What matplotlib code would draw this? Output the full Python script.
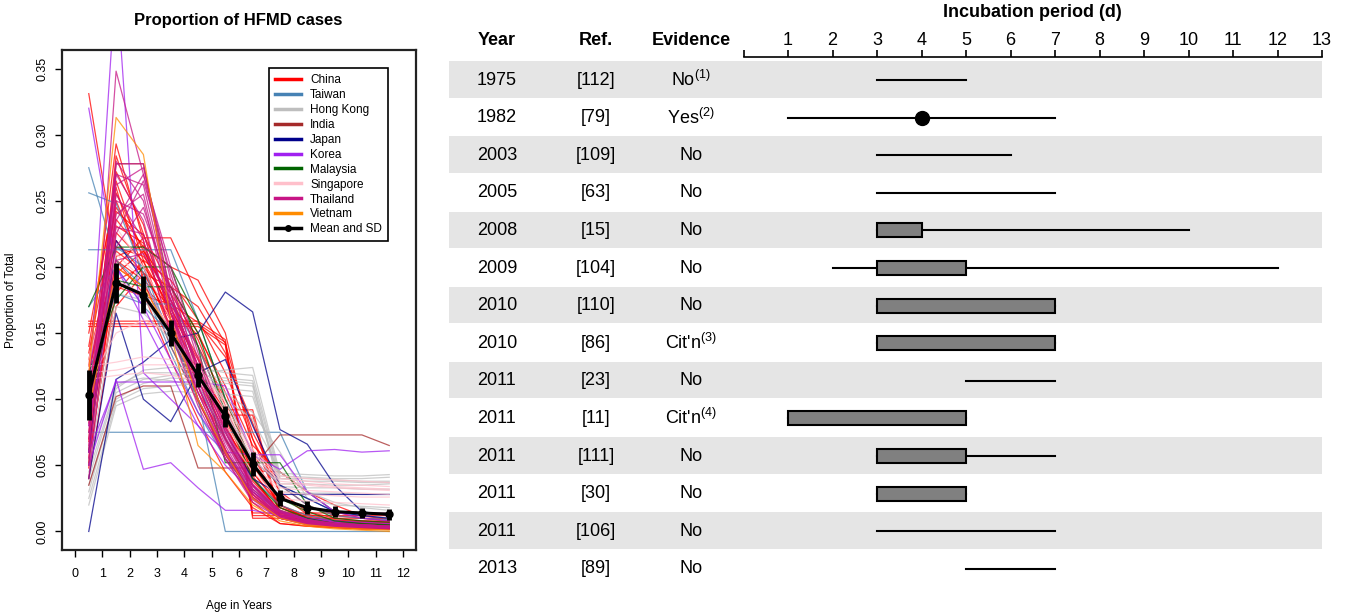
import numpy as np
import matplotlib
matplotlib.use("Agg")
import matplotlib.pyplot as plt
from matplotlib import font_manager
from matplotlib.lines import Line2D

# ---------------- left panel: age distribution of HFMD cases ----------------
ages = [0.5, 1.5, 2.5, 3.5, 4.5, 5.5, 6.5, 7.5, 8.5, 9.5, 10.5, 11.5]

china = [
    [0.331, 0.205, 0.180, 0.130, 0.085, 0.045, 0.018, 0.006, 0.004, 0.003, 0.002, 0.002],
    [0.125, 0.293, 0.220, 0.150, 0.100, 0.058, 0.028, 0.012, 0.008, 0.005, 0.004, 0.003],
    [0.085, 0.284, 0.225, 0.165, 0.110, 0.062, 0.026, 0.010, 0.006, 0.004, 0.003, 0.003],
    [0.100, 0.272, 0.232, 0.160, 0.100, 0.055, 0.030, 0.012, 0.007, 0.005, 0.004, 0.003],
    [0.070, 0.256, 0.212, 0.175, 0.125, 0.080, 0.040, 0.015, 0.010, 0.006, 0.005, 0.004],
    [0.062, 0.242, 0.224, 0.185, 0.140, 0.090, 0.045, 0.020, 0.010, 0.006, 0.005, 0.004],
    [0.092, 0.231, 0.218, 0.170, 0.125, 0.070, 0.035, 0.012, 0.006, 0.004, 0.003, 0.002],
    [0.052, 0.200, 0.222, 0.222, 0.178, 0.142, 0.070, 0.020, 0.010, 0.008, 0.006, 0.005],
    [0.048, 0.208, 0.216, 0.200, 0.190, 0.150, 0.062, 0.015, 0.008, 0.006, 0.005, 0.004],
    [0.157, 0.157, 0.157, 0.157, 0.157, 0.143, 0.012, 0.012, 0.012, 0.012, 0.012, 0.012],
    [0.155, 0.155, 0.155, 0.155, 0.155, 0.141, 0.010, 0.010, 0.010, 0.010, 0.010, 0.010],
    [0.159, 0.159, 0.159, 0.159, 0.159, 0.145, 0.014, 0.014, 0.014, 0.014, 0.014, 0.014],
    [0.130, 0.220, 0.195, 0.160, 0.120, 0.092, 0.092, 0.012, 0.010, 0.008, 0.008, 0.008],
    [0.110, 0.200, 0.185, 0.165, 0.130, 0.088, 0.088, 0.010, 0.008, 0.007, 0.007, 0.007],
    [0.095, 0.190, 0.200, 0.175, 0.140, 0.100, 0.050, 0.020, 0.012, 0.008, 0.007, 0.006],
    [0.075, 0.215, 0.208, 0.180, 0.145, 0.095, 0.045, 0.018, 0.011, 0.007, 0.006, 0.005],
    [0.140, 0.265, 0.205, 0.150, 0.105, 0.070, 0.035, 0.013, 0.008, 0.005, 0.004, 0.003],
    [0.115, 0.250, 0.200, 0.155, 0.115, 0.075, 0.040, 0.015, 0.009, 0.006, 0.005, 0.004],
    [0.060, 0.180, 0.205, 0.190, 0.160, 0.120, 0.070, 0.030, 0.015, 0.010, 0.008, 0.007],
    [0.040, 0.170, 0.195, 0.185, 0.170, 0.135, 0.075, 0.035, 0.020, 0.012, 0.010, 0.008],
    [0.105, 0.236, 0.210, 0.165, 0.120, 0.078, 0.046, 0.045, 0.030, 0.020, 0.012, 0.009],
    [0.082, 0.205, 0.190, 0.170, 0.148, 0.110, 0.065, 0.045, 0.030, 0.015, 0.010, 0.008],
    [0.135, 0.245, 0.215, 0.160, 0.110, 0.062, 0.022, 0.006, 0.004, 0.003, 0.002, 0.002],
    [0.068, 0.195, 0.212, 0.185, 0.150, 0.105, 0.058, 0.018, 0.009, 0.006, 0.005, 0.005],
    [0.150, 0.260, 0.190, 0.140, 0.098, 0.060, 0.028, 0.010, 0.005, 0.003, 0.002, 0.002],
    [0.056, 0.185, 0.178, 0.172, 0.158, 0.132, 0.082, 0.028, 0.013, 0.009, 0.007, 0.006],
    [0.098, 0.226, 0.204, 0.168, 0.132, 0.085, 0.042, 0.014, 0.008, 0.006, 0.005, 0.004],
    [0.120, 0.212, 0.196, 0.160, 0.122, 0.082, 0.038, 0.016, 0.010, 0.007, 0.006, 0.005],
]
taiwan = [
    [0.275, 0.205, 0.185, 0.135, 0.090, 0.055, 0.030, 0.015, 0.008, 0.005, 0.004, 0.004],
    [0.256, 0.248, 0.195, 0.140, 0.100, 0.060, 0.032, 0.016, 0.009, 0.006, 0.005, 0.004],
    [0.213, 0.213, 0.213, 0.213, 0.160, 0.100, 0.060, 0.035, 0.020, 0.012, 0.010, 0.009],
    [0.075, 0.075, 0.075, 0.075, 0.075, 0.075, 0.075, 0.075, 0.030, 0.015, 0.014, 0.014],
    [0.170, 0.200, 0.170, 0.150, 0.100, 0.000, 0.000, 0.000, 0.000, 0.000, 0.000, 0.000],
    [0.120, 0.180, 0.172, 0.172, 0.140, 0.090, 0.055, 0.035, 0.025, 0.015, 0.012, 0.010],
    [0.090, 0.215, 0.200, 0.145, 0.110, 0.070, 0.040, 0.020, 0.012, 0.008, 0.006, 0.005],
]
hong_kong = [
    [0.030, 0.105, 0.115, 0.118, 0.120, 0.122, 0.124, 0.044, 0.043, 0.042, 0.042, 0.043],
    [0.045, 0.110, 0.120, 0.120, 0.118, 0.116, 0.114, 0.040, 0.040, 0.039, 0.038, 0.038],
    [0.025, 0.098, 0.108, 0.110, 0.112, 0.112, 0.110, 0.036, 0.036, 0.035, 0.035, 0.036],
    [0.055, 0.112, 0.116, 0.114, 0.110, 0.108, 0.106, 0.034, 0.033, 0.033, 0.032, 0.032],
    [0.035, 0.100, 0.112, 0.116, 0.115, 0.114, 0.112, 0.030, 0.029, 0.029, 0.028, 0.028],
    [0.020, 0.095, 0.104, 0.106, 0.105, 0.104, 0.102, 0.040, 0.038, 0.038, 0.037, 0.037],
    [0.040, 0.108, 0.122, 0.124, 0.124, 0.120, 0.118, 0.042, 0.041, 0.040, 0.040, 0.041],
    [0.050, 0.170, 0.165, 0.145, 0.120, 0.100, 0.085, 0.045, 0.030, 0.022, 0.018, 0.016],
    [0.060, 0.180, 0.175, 0.150, 0.125, 0.105, 0.090, 0.060, 0.025, 0.020, 0.019, 0.018],
]
india = [
    [0.035, 0.102, 0.110, 0.110, 0.048, 0.048, 0.048, 0.073, 0.073, 0.073, 0.073, 0.065],
    [0.050, 0.278, 0.278, 0.180, 0.120, 0.070, 0.035, 0.015, 0.010, 0.008, 0.006, 0.005],
]
japan = [
    [0.000, 0.115, 0.128, 0.145, 0.150, 0.181, 0.166, 0.077, 0.066, 0.035, 0.015, 0.012],
    [0.040, 0.165, 0.100, 0.083, 0.120, 0.130, 0.080, 0.035, 0.025, 0.015, 0.012, 0.010],
    [0.060, 0.220, 0.190, 0.150, 0.110, 0.075, 0.040, 0.028, 0.028, 0.028, 0.028, 0.028],
]
korea = [
    [0.320, 0.200, 0.160, 0.120, 0.080, 0.050, 0.030, 0.015, 0.010, 0.007, 0.005, 0.004],
    [0.100, 0.420, 0.120, 0.100, 0.080, 0.060, 0.035, 0.015, 0.008, 0.005, 0.004, 0.003],
    [0.050, 0.115, 0.047, 0.052, 0.033, 0.016, 0.016, 0.012, 0.010, 0.008, 0.007, 0.006],
    [0.080, 0.200, 0.170, 0.130, 0.090, 0.060, 0.058, 0.047, 0.061, 0.062, 0.060, 0.061],
    [0.060, 0.113, 0.113, 0.113, 0.113, 0.110, 0.058, 0.058, 0.030, 0.015, 0.010, 0.008],
]
malaysia = [
    [0.170, 0.215, 0.215, 0.200, 0.160, 0.100, 0.050, 0.025, 0.015, 0.008, 0.006, 0.005],
    [0.120, 0.175, 0.200, 0.200, 0.140, 0.052, 0.052, 0.052, 0.020, 0.010, 0.008, 0.007],
    [0.090, 0.190, 0.185, 0.185, 0.150, 0.090, 0.040, 0.018, 0.010, 0.006, 0.005, 0.004],
]
singapore = [
    [0.125, 0.128, 0.132, 0.130, 0.125, 0.095, 0.060, 0.040, 0.038, 0.036, 0.035, 0.034],
    [0.120, 0.122, 0.126, 0.126, 0.120, 0.090, 0.055, 0.036, 0.035, 0.033, 0.032, 0.031],
    [0.115, 0.118, 0.120, 0.118, 0.114, 0.088, 0.050, 0.033, 0.031, 0.030, 0.029, 0.028],
    [0.108, 0.230, 0.200, 0.160, 0.120, 0.080, 0.052, 0.030, 0.028, 0.027, 0.026, 0.026],
    [0.130, 0.210, 0.190, 0.150, 0.110, 0.075, 0.045, 0.025, 0.023, 0.022, 0.021, 0.020],
    [0.112, 0.150, 0.160, 0.150, 0.125, 0.092, 0.058, 0.038, 0.036, 0.034, 0.033, 0.032],
    [0.105, 0.190, 0.180, 0.155, 0.125, 0.098, 0.062, 0.042, 0.040, 0.039, 0.038, 0.037],
]
thailand = [
    [0.060, 0.348, 0.270, 0.180, 0.110, 0.060, 0.025, 0.010, 0.006, 0.004, 0.003, 0.003],
    [0.080, 0.278, 0.278, 0.170, 0.100, 0.055, 0.022, 0.010, 0.006, 0.004, 0.003, 0.002],
    [0.100, 0.270, 0.262, 0.175, 0.115, 0.065, 0.028, 0.012, 0.007, 0.005, 0.004, 0.003],
    [0.070, 0.262, 0.275, 0.190, 0.120, 0.070, 0.030, 0.012, 0.007, 0.005, 0.004, 0.003],
    [0.050, 0.250, 0.240, 0.185, 0.125, 0.075, 0.032, 0.014, 0.008, 0.006, 0.005, 0.004],
    [0.090, 0.240, 0.255, 0.170, 0.110, 0.062, 0.028, 0.011, 0.006, 0.004, 0.003, 0.003],
    [0.120, 0.230, 0.225, 0.165, 0.115, 0.068, 0.030, 0.013, 0.007, 0.005, 0.004, 0.003],
    [0.040, 0.225, 0.265, 0.195, 0.130, 0.078, 0.035, 0.015, 0.009, 0.006, 0.005, 0.004],
    [0.065, 0.270, 0.235, 0.160, 0.105, 0.060, 0.026, 0.011, 0.006, 0.004, 0.003, 0.003],
    [0.110, 0.215, 0.245, 0.180, 0.120, 0.072, 0.032, 0.014, 0.008, 0.005, 0.004, 0.003],
    [0.085, 0.255, 0.220, 0.150, 0.095, 0.055, 0.024, 0.010, 0.005, 0.004, 0.003, 0.002],
    [0.055, 0.235, 0.270, 0.200, 0.135, 0.080, 0.036, 0.016, 0.009, 0.006, 0.005, 0.004],
    [0.095, 0.205, 0.210, 0.175, 0.125, 0.076, 0.034, 0.015, 0.008, 0.006, 0.005, 0.004],
    [0.075, 0.280, 0.250, 0.165, 0.105, 0.058, 0.025, 0.010, 0.006, 0.004, 0.003, 0.003],
]
vietnam = [
    [0.120, 0.313, 0.285, 0.160, 0.100, 0.060, 0.025, 0.010, 0.005, 0.003, 0.002, 0.001],
    [0.090, 0.200, 0.185, 0.150, 0.065, 0.045, 0.020, 0.008, 0.004, 0.002, 0.001, 0.000],
]
mean_prop = [0.103, 0.188, 0.179, 0.150, 0.118, 0.087, 0.051, 0.025, 0.018, 0.015, 0.014, 0.013]
sd_prop = [0.019, 0.015, 0.014, 0.010, 0.009, 0.008, 0.009, 0.006, 0.005, 0.004, 0.004, 0.004]

countries = ["China", "Taiwan", "Hong Kong", "India", "Japan", "Korea",
             "Malaysia", "Singapore", "Thailand", "Vietnam"]
country_data = [china, taiwan, hong_kong, india, japan, korea,
                malaysia, singapore, thailand, vietnam]
country_cols = ["#FF0000", "#4682B4", "#BEBEBE", "#A52A2A", "#00008B", "#A020F0",
                "#006400", "#FFC0CB", "#C71585", "#FF8C00"]

# ---------------- right panel: incubation period table ----------------
years = ["1975", "1982", "2003", "2005", "2008", "2009", "2010",
         "2010", "2011", "2011", "2011", "2011", "2011", "2013"]
refs = ["[112]", "[79]", "[109]", "[63]", "[15]", "[104]", "[110]",
        "[86]", "[23]", "[11]", "[111]", "[30]", "[106]", "[89]"]
evidence = ["No$^{(1)}$", "Yes$^{(2)}$", "No", "No", "No", "No", "No",
            "Cit'n$^{(3)}$", "No", "Cit'n$^{(4)}$", "No", "No", "No", "No"]
range_lo = [3, 1, 3, 3, 3, 2, 3, 3, 5, 1, 3, 3, 3, 5]
range_hi = [5, 7, 6, 7, 10, 12, 7, 7, 7, 5, 7, 5, 7, 7]
box_lo = [None, None, None, None, 3, 3, 3, 3, None, 1, 3, 3, None, None]
box_hi = [None, None, None, None, 4, 5, 7, 7, None, 5, 5, 5, None, None]
point_est = [None, 4, None, None, None, None, None, None, None, None, None, None, None, None]

# fonts
installed = {f.name for f in font_manager.fontManager.ttflist}
narrow = "Liberation Sans Narrow" if "Liberation Sans Narrow" in installed else "Liberation Sans"
plt.rcParams["font.family"] = ["Liberation Sans", "DejaVu Sans"]
plt.rcParams["mathtext.fontset"] = "custom"
plt.rcParams["mathtext.rm"] = narrow
plt.rcParams["mathtext.it"] = narrow
plt.rcParams["mathtext.bf"] = narrow

W, H = 1349, 612
fig = plt.figure(figsize=(W / 100, H / 100), dpi=100)

# ---- left
ax = fig.add_axes([62 / W, 1 - 550 / H, (416 - 62) / W, 500 / H])
for rows, col in zip(country_data, country_cols):
    for r in rows:
        ax.plot(ages, r, color=col, lw=0.9, alpha=0.75, zorder=2)
ax.errorbar(ages, mean_prop, yerr=sd_prop, color="black", lw=2.2, elinewidth=3.5,
            capsize=0, marker="o", ms=5, zorder=5)
ax.set_xlim(-0.48, 12.48)
ax.set_ylim(-0.014, 0.364)
ax.set_xticks(range(13))
yt = [0.0, 0.05, 0.10, 0.15, 0.20, 0.25, 0.30, 0.35]
ax.set_yticks(yt)
ax.set_yticklabels([f"{v:.2f}" for v in yt], rotation=90, va="center")
ax.tick_params(direction="out", length=5, width=1, labelsize=9)
ax.tick_params(axis="x", pad=8)
ax.tick_params(axis="y", pad=5)
for s in ax.spines.values():
    s.set_linewidth(1.6)
    s.set_color("#222222")
ax.set_xlabel("Age in Years", fontsize=8.5, labelpad=14)
ax.set_ylabel("Proportion of Total", fontsize=8.5, labelpad=14)
fig.text(238 / W, 1 - 20 / H, "Proportion of HFMD cases", fontsize=12,
         fontweight="bold", ha="center", va="center")

handles = [Line2D([], [], color=c, lw=2.5) for c in country_cols]
handles.append(Line2D([], [], color="black", lw=2.5, marker="o", ms=4))
leg = ax.legend(handles, countries + ["Mean and SD"], loc="upper right",
                bbox_to_anchor=(0.921, 0.964), borderaxespad=0, fontsize=8.5,
                frameon=True, fancybox=False, edgecolor="black", framealpha=1,
                handlelength=2.2, labelspacing=0.25, borderpad=0.5, handletextpad=0.8)
leg.get_frame().set_linewidth(1.2)

# ---- right
px_day = 44.5
day0_px = 788 - px_day
x_left = (449 - day0_px) / px_day
ax2 = fig.add_axes([449 / W, 1 - 587.6 / H, (1322 - 449) / W, 526.4 / H])
ax2.set_xlim(x_left, 13)
ax2.set_ylim(13.5, -0.5)
nrow = len(years)
for i in range(0, nrow, 2):
    ax2.axhspan(i - 0.5, i + 0.47, color="#E5E5E5", lw=0, zorder=0)

col_year = (497 - day0_px) / px_day
col_ref = (596 - day0_px) / px_day
col_evid = (691 - day0_px) / px_day
fs = 13
for i in range(nrow):
    ax2.text(col_year, i, years[i], family=narrow, fontsize=fs, ha="center", va="center")
    ax2.text(col_ref, i, refs[i], family=narrow, fontsize=fs, ha="center", va="center")
    ax2.text(col_evid, i, evidence[i], family=narrow, fontsize=fs, ha="center", va="center")
    ax2.plot([range_lo[i], range_hi[i]], [i, i], color="black", lw=1.5, zorder=2)
    if box_lo[i] is not None:
        ax2.barh(i, box_hi[i] - box_lo[i], left=box_lo[i], height=0.37,
                 color="#808080", edgecolor="black", lw=1.5, zorder=3)
    if point_est[i] is not None:
        ax2.plot(point_est[i], i, "o", color="black", ms=10, zorder=4)

hy = (40 - 80) / 37.6
for x, t in [(col_year, "Year"), (col_ref, "Ref."), (col_evid, "Evidence")]:
    ax2.text(x, hy, t, family=narrow, fontsize=fs, fontweight="bold",
             ha="center", va="center", clip_on=False)
ax2.text(6.5, (12 - 80) / 37.6, "Incubation period (d)", family=narrow, fontsize=fs,
         fontweight="bold", ha="center", va="center", clip_on=False)

for k in ["left", "right", "bottom"]:
    ax2.spines[k].set_visible(False)
ax2.spines["top"].set_bounds(0, 13)
ax2.spines["top"].set_position(("outward", 3))
ax2.spines["top"].set_linewidth(1.2)
ax2.xaxis.tick_top()
ax2.set_xticks(range(14))
ax2.set_xticklabels([""] + [str(d) for d in range(1, 14)], family=narrow)
ax2.tick_params(axis="x", direction="out", length=5, width=1.2, labelsize=fs, pad=1)
ax2.set_yticks([])

fig.savefig("out.png", dpi=100)
